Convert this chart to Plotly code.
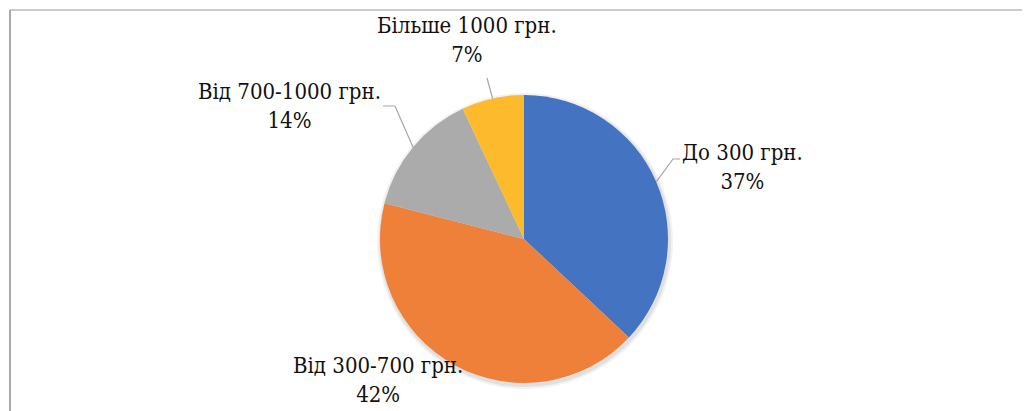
import math
import plotly.graph_objects as go

# ---- data ----
categories = ["До 300 грн.", "Від 300-700 грн.", "Від 700-1000 грн.", "Більше 1000 грн."]
values = [37, 42, 14, 7]
colors = ["#4473C2", "#EF8039", "#ABABAB", "#FDBA2C"]

# ---- layout (pixels in the browser window; page body has an 8px margin) ----
OFF = 8
W, H = 1030 - OFF, 411 - OFF
CX, CY, R = 524, 239, 144
FONT = "DejaVu Serif Condensed"
FSIZE = 22
# label text centre (px) and elbow of leader line (px), per category
label_pos = [(742, 167), (378, 380), (289, 106), (467, 40)]
elbows = [[(673, 159), (680, 159)], None, [(395, 106), (383, 106)], None]
straight = [None, None, None, (487, 78)]

def px(x, y):
    return (x - OFF) / W, 1 - (y - OFF) / H

fig = go.Figure()
x0, y1 = px(CX - R, CY - R)
x1, y0 = px(CX + R, CY + R)
# soft shadow
for k, a in [(4, 0.05), (2, 0.07)]:
    sx0, sy1 = px(CX - R - k + 1, CY - R - k + 2)
    sx1, sy0 = px(CX + R + k + 1, CY + R + k + 2)
    fig.add_trace(go.Pie(values=[1], marker=dict(colors=[f"rgba(0,0,0,{a})"]),
                         textinfo="none", hoverinfo="skip", showlegend=False,
                         domain=dict(x=[sx0, sx1], y=[sy0, sy1]), sort=False))
fig.add_trace(go.Pie(
    labels=categories, values=values, sort=False, direction="clockwise", rotation=0,
    marker=dict(colors=colors, line=dict(width=0)), textinfo="none",
    showlegend=False, domain=dict(x=[x0, x1], y=[y0, y1]),
))

total = sum(values)
cum = 0
annotations = []
shapes = []
for i, (cat, v) in enumerate(zip(categories, values)):
    mid = (cum + v / 2) / total * 2 * math.pi
    cum += v
    ex = CX + R * math.sin(mid)
    ey = CY - R * math.cos(mid)
    lx, ly = label_pos[i]
    ax, ay = px(lx, ly)
    annotations.append(dict(
        x=ax, y=ay, xref="paper", yref="paper", showarrow=False,
        text=f"{cat}<br>{round(v / total * 100)}%", align="center",
        font=dict(family=FONT, size=FSIZE, color="#111111"),
        xanchor="center", yanchor="middle",
    ))
    pts = None
    if elbows[i]:
        pts = [(ex, ey)] + elbows[i]
    elif straight[i]:
        pts = [(ex, ey), straight[i]]
    if pts:
        path = "M " + " L ".join(f"{px(a, b)[0]:.5f},{px(a, b)[1]:.5f}" for a, b in pts)
        shapes.append(dict(type="path", path=path, xref="paper", yref="paper",
                           line=dict(color="#A6A6A6", width=1.2)))

# frame lines (left and top)
shapes.append(dict(type="line", xref="paper", yref="paper",
                   x0=px(10, 10)[0], y0=px(10, 10)[1], x1=px(10, 411)[0], y1=px(10, 411)[1],
                   line=dict(color="#8C8C8C", width=1.5)))
shapes.append(dict(type="line", xref="paper", yref="paper",
                   x0=px(10, 10)[0], y0=px(10, 10)[1], x1=px(1030, 10)[0], y1=px(1030, 10)[1],
                   line=dict(color="#9A9A9A", width=1.2)))

fig.update_layout(
    width=W, height=H, margin=dict(l=0, r=0, t=0, b=0),
    paper_bgcolor="white", plot_bgcolor="white",
    annotations=annotations, shapes=shapes,
)
fig.write_html("out.html")
